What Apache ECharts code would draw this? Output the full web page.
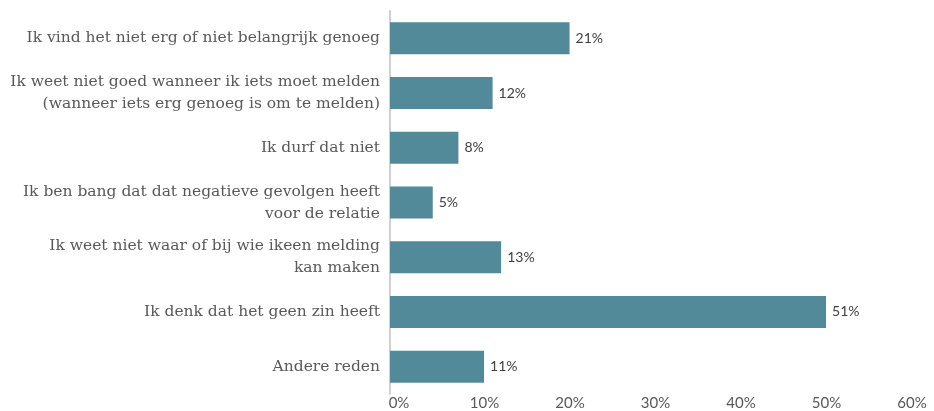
<!DOCTYPE html>
<html>
<head>
<meta charset="utf-8">
<script src="https://cdn.jsdelivr.net/npm/echarts@6/dist/echarts.min.js"></script>
<style>
  html, body { margin: 0; padding: 0; background: #ffffff; }
  #chart { width: 934px; height: 411px; }
</style>
</head>
<body>
<div id="chart"></div>
<script>
// Reasons given for not reporting (top to bottom)
const categories = [
  'Ik vind het niet erg of niet belangrijk genoeg',
  'Ik weet niet goed wanneer ik iets moet melden\n(wanneer iets erg genoeg is om te melden)',
  'Ik durf dat niet',
  'Ik ben bang dat dat negatieve gevolgen heeft\nvoor de relatie',
  'Ik weet niet waar of bij wie ikeen melding\nkan maken',
  'Ik denk dat het geen zin heeft',
  'Andere reden'
];
const values = [21, 12, 8, 5, 13, 51, 11];
const xTicks = [0, 10, 20, 30, 40, 50, 60];

const chart = echarts.init(document.getElementById('chart'));
chart.setOption({
  animation: false,
  grid: { left: 390, right: 31, top: 11, bottom: 12, containLabel: false },
  xAxis: {
    type: 'value',
    min: xTicks[0],
    max: xTicks[xTicks.length - 1],
    interval: 10,
    axisLine: { show: false },
    axisTick: { show: false },
    splitLine: { show: false },
    axisLabel: {
      margin: 2,
      padding: [0, 0, 0, 18],
      color: '#595959',
      fontFamily: 'Lato',
      fontSize: 15,
      formatter: v => v + '%'
    }
  },
  yAxis: {
    type: 'category',
    inverse: true,
    data: categories,
    axisLine: { show: true, lineStyle: { color: '#d0d0d0', width: 2 } },
    axisTick: { show: false },
    axisLabel: {
      margin: 10,
      color: '#595959',
      fontFamily: 'DejaVu Serif',
      fontSize: 15.5,
      lineHeight: 22,
      align: 'right'
    }
  },
  series: [{
    type: 'bar',
    data: values,
    barWidth: 32,
    itemStyle: { color: '#528a9a' },
    label: {
      show: true,
      position: 'right',
      distance: 6,
      color: '#404040',
      fontFamily: 'Lato',
      fontSize: 14,
      formatter: p => p.value + '%'
    }
  }]
});
</script>
</body>
</html>
